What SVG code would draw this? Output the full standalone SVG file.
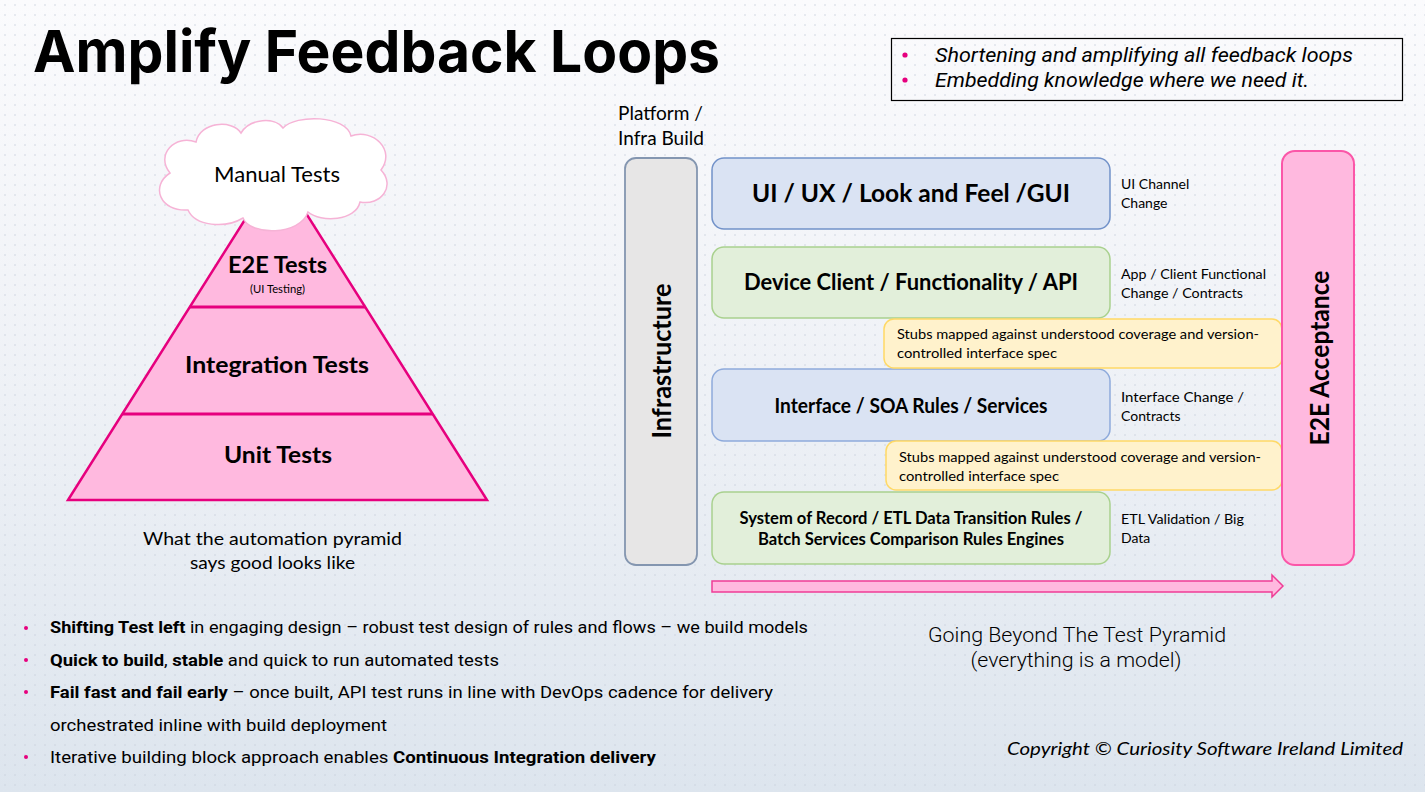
<svg xmlns="http://www.w3.org/2000/svg" width="1425" height="792" viewBox="0 0 1425 792">
<defs>
  <linearGradient id="bg" x1="0" y1="0" x2="0" y2="1">
    <stop offset="0" stop-color="#fbfbfd"/>
    <stop offset="0.5" stop-color="#eef1f6"/>
    <stop offset="1" stop-color="#dde5ee"/>
  </linearGradient>
  <pattern id="dots" x="0" y="0" width="10" height="10" patternUnits="userSpaceOnUse">
    <circle cx="5" cy="5" r="0.9" fill="#c9d1dc" opacity="0.6"/>
  </pattern>
  <style>
    .cal { font-family: Lato, "Open Sans", "Liberation Sans", sans-serif; fill: #000; }
    .b { font-weight: 700; }
    .plex { font-family: Roboto, "Noto Sans", "Liberation Sans", sans-serif; fill: #000; }
    .ital { font-style: italic; }
    .blue { fill: #dae3f3; stroke: #7292c9; stroke-width: 1.5; }
    .blue2 { fill: #dae3f3; stroke: #8eaadb; stroke-width: 1.5; }
    .green { fill: #e2efda; stroke: #a9d18e; stroke-width: 1.5; }
    .stub { fill: #fff2cc; stroke: #ffd966; stroke-width: 1.5; }
    .pink { fill: #ffb9df; }
    .dot { fill: #e6007e; }
  </style>
</defs>

<rect width="1425" height="792" fill="url(#bg)"/>
<rect width="1425" height="792" fill="url(#dots)"/>

<g id="title">
  <text x="33" y="72" font-family="Inter, 'Liberation Sans', sans-serif" font-weight="700" font-size="58" textLength="687" lengthAdjust="spacingAndGlyphs" fill="#000">Amplify Feedback Loops</text>
</g>

<g id="summary-box">
  <rect x="891.5" y="38.5" width="511" height="62" fill="none" stroke="#000" stroke-width="1.2"/>
  <circle class="dot" cx="905" cy="55" r="2.6"/>
  <circle class="dot" cx="905" cy="80" r="2.6"/>
  <text class="plex ital" x="935" y="62" font-size="20" textLength="418" lengthAdjust="spacingAndGlyphs">Shortening and amplifying all feedback loops</text>
  <text class="plex ital" x="935" y="87" font-size="20" textLength="374" lengthAdjust="spacingAndGlyphs">Embedding knowledge where we need it.</text>
</g>

<g id="pyramid">
  <polygon points="277.5,168 68,500 487,500" fill="#ffb9df" stroke="#e6007e" stroke-width="2.5" stroke-linejoin="miter"/>
  <line x1="189.8" y1="307" x2="365.2" y2="307" stroke="#e6007e" stroke-width="3"/>
  <line x1="122.3" y1="414" x2="432.7" y2="414" stroke="#e6007e" stroke-width="3"/>
</g>

<g id="e2e-tests">
  <text class="cal b" x="277.5" y="273" font-size="23" text-anchor="middle" textLength="99" lengthAdjust="spacingAndGlyphs">E2E Tests</text>
  <text class="cal" x="277.5" y="293" font-size="11" text-anchor="middle" textLength="55" lengthAdjust="spacingAndGlyphs">(UI Testing)</text>
</g>
<g id="integration-tests">
  <text class="cal b" x="277" y="373" font-size="23" text-anchor="middle" textLength="184" lengthAdjust="spacingAndGlyphs">Integration Tests</text>
</g>
<g id="unit-tests">
  <text class="cal b" x="278" y="463" font-size="23" text-anchor="middle" textLength="108" lengthAdjust="spacingAndGlyphs">Unit Tests</text>
</g>

<g id="manual-tests">
  <path d="M 188,210 C 160,212 150,186 170,173 C 155,155 175,134 196,142 C 200,122 232,119 241,133 C 250,118 275,117 283,128 C 296,114 346,115 351,136 C 373,128 396,150 381,170 C 396,186 381,206 360,202 C 356,221 321,223 308,212 C 300,236 250,236 243,218 C 225,229 195,226 188,210 Z" fill="#ffffff" stroke="#f6b3d6" stroke-width="1.5"/>
  <text class="cal" x="277" y="182" font-size="21" text-anchor="middle" textLength="126" lengthAdjust="spacingAndGlyphs">Manual Tests</text>
</g>

<g id="pyramid-caption">
  <text class="cal" x="272.5" y="545" font-size="18" text-anchor="middle" textLength="259" lengthAdjust="spacingAndGlyphs">What the automation pyramid</text>
  <text class="cal" x="272.5" y="569" font-size="18" text-anchor="middle" textLength="165" lengthAdjust="spacingAndGlyphs">says good looks like</text>
</g>

<g id="platform-label">
  <text class="cal" x="618" y="120" font-size="18.5" textLength="85" lengthAdjust="spacingAndGlyphs">Platform /</text>
  <text class="cal" x="618" y="145" font-size="18.5" textLength="86" lengthAdjust="spacingAndGlyphs">Infra Build</text>
</g>

<g id="infrastructure">
  <rect x="625" y="158" width="72" height="407" rx="11" fill="#e7e6e6" stroke="#8496b0" stroke-width="1.8"/>
  <text class="cal b" transform="translate(671,361) rotate(-90)" font-size="26" text-anchor="middle" textLength="155" lengthAdjust="spacingAndGlyphs">Infrastructure</text>
</g>

<g id="ui-layer">
  <rect class="blue" x="712" y="158" width="398" height="71" rx="12"/>
  <text class="cal b" x="911" y="202" font-size="25" text-anchor="middle" textLength="318" lengthAdjust="spacingAndGlyphs">UI / UX / Look and Feel /GUI</text>
</g>
<g id="ui-note">
  <text class="cal" x="1121" y="189" font-size="14">UI Channel</text>
  <text class="cal" x="1121" y="208" font-size="14">Change</text>
</g>

<g id="device-layer">
  <rect class="green" x="712" y="247" width="398" height="71" rx="12"/>
  <text class="cal b" x="911" y="290" font-size="22" text-anchor="middle" textLength="334" lengthAdjust="spacingAndGlyphs">Device Client / Functionality / API</text>
</g>
<g id="device-note">
  <text class="cal" x="1121" y="279" font-size="14" textLength="145" lengthAdjust="spacingAndGlyphs">App / Client Functional</text>
  <text class="cal" x="1121" y="298" font-size="14" textLength="122" lengthAdjust="spacingAndGlyphs">Change / Contracts</text>
</g>

<g id="interface-layer">
  <rect class="blue2" x="712" y="369" width="398" height="72" rx="12"/>
  <text class="cal b" x="911" y="413" font-size="20" text-anchor="middle" textLength="273" lengthAdjust="spacingAndGlyphs">Interface / SOA Rules / Services</text>
</g>
<g id="interface-note">
  <text class="cal" x="1121" y="402" font-size="14" textLength="123" lengthAdjust="spacingAndGlyphs">Interface Change /</text>
  <text class="cal" x="1121" y="421" font-size="14">Contracts</text>
</g>

<g id="stub-1">
  <rect class="stub" x="884" y="319" width="398" height="49" rx="10"/>
  <text class="cal" x="897" y="339" font-size="14" textLength="362" lengthAdjust="spacingAndGlyphs">Stubs mapped against understood coverage and version-</text>
  <text class="cal" x="897" y="358" font-size="14" textLength="160" lengthAdjust="spacingAndGlyphs">controlled interface spec</text>
</g>

<g id="stub-2">
  <rect class="stub" x="886" y="441" width="396" height="49" rx="10"/>
  <text class="cal" x="899" y="462" font-size="14" textLength="362" lengthAdjust="spacingAndGlyphs">Stubs mapped against understood coverage and version-</text>
  <text class="cal" x="899" y="481" font-size="14" textLength="160" lengthAdjust="spacingAndGlyphs">controlled interface spec</text>
</g>

<g id="system-layer">
  <rect class="green" x="712" y="492" width="398" height="72" rx="12"/>
  <text class="cal b" x="911" y="524" font-size="16.5" text-anchor="middle" textLength="343" lengthAdjust="spacingAndGlyphs">System of Record / ETL Data Transition Rules /</text>
  <text class="cal b" x="911" y="545" font-size="16.5" text-anchor="middle" textLength="306" lengthAdjust="spacingAndGlyphs">Batch Services Comparison Rules Engines</text>
</g>
<g id="system-note">
  <text class="cal" x="1121" y="524" font-size="14" textLength="123" lengthAdjust="spacingAndGlyphs">ETL Validation / Big</text>
  <text class="cal" x="1121" y="543" font-size="14">Data</text>
</g>

<g id="e2e-acceptance">
  <rect x="1282" y="151" width="72" height="414" rx="13" fill="#ffb9df" stroke="#fb56a8" stroke-width="2"/>
  <text class="cal b" transform="translate(1329,358) rotate(-90)" font-size="27" text-anchor="middle" textLength="175" lengthAdjust="spacingAndGlyphs">E2E Acceptance</text>
</g>

<g id="connectors">
  <path d="M 712,581 L 1272,581 L 1272,575 L 1283,586 L 1272,597 L 1272,592 L 712,592 Z" fill="#ffb9df" stroke="#ef3d96" stroke-width="1.5" stroke-linejoin="miter"/>
</g>

<g id="beyond-caption">
  <text class="plex" x="1077" y="642" font-size="20" font-weight="300" text-anchor="middle" textLength="298" lengthAdjust="spacingAndGlyphs">Going Beyond The Test Pyramid</text>
  <text class="plex" x="1076" y="667" font-size="20" font-weight="300" text-anchor="middle" textLength="211" lengthAdjust="spacingAndGlyphs">(everything is a model)</text>
</g>

<g id="bullets">
  <circle class="dot" cx="26" cy="628" r="2"/>
  <circle class="dot" cx="26" cy="660" r="2"/>
  <circle class="dot" cx="26" cy="692" r="2"/>
  <circle class="dot" cx="26" cy="757" r="2"/>
  <text class="plex" x="50" y="633" font-size="17" textLength="758" lengthAdjust="spacingAndGlyphs"><tspan font-weight="700">Shifting Test left</tspan> in engaging design – robust test design of rules and flows – we build models</text>
  <text class="plex" x="50" y="666" font-size="17" textLength="449" lengthAdjust="spacingAndGlyphs"><tspan font-weight="700">Quick to build</tspan>, <tspan font-weight="700">stable</tspan> and quick to run automated tests</text>
  <text class="plex" x="50" y="698" font-size="17" textLength="723" lengthAdjust="spacingAndGlyphs"><tspan font-weight="700">Fail fast and fail early</tspan> – once built, API test runs in line with DevOps cadence for delivery</text>
  <text class="plex" x="50" y="731" font-size="17" textLength="337" lengthAdjust="spacingAndGlyphs">orchestrated inline with build deployment</text>
  <text class="plex" x="50" y="763" font-size="17" textLength="606" lengthAdjust="spacingAndGlyphs">Iterative building block approach enables <tspan font-weight="700">Continuous Integration delivery</tspan></text>
</g>

<g id="copyright">
  <text class="cal ital" x="1403" y="755" font-size="18" text-anchor="end" textLength="396" lengthAdjust="spacingAndGlyphs">Copyright © Curiosity Software Ireland Limited</text>
</g>
</svg>
